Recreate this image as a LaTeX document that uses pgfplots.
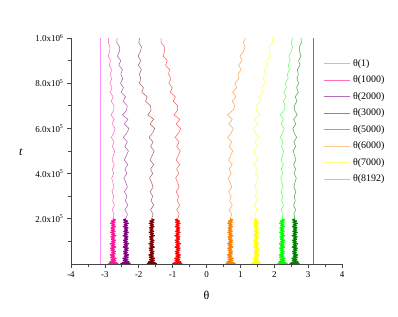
\documentclass[border=0pt]{standalone}
\usepackage{fontspec}
\setmainfont{Liberation Serif}
\usepackage{pgfplots}
\usepackage{pgfplotstable}
\pgfplotsset{compat=1.18}
\definecolor{cmag}{RGB}{255,0,255}
\definecolor{cpink}{RGB}{255,20,147}
\definecolor{cpurple}{RGB}{128,0,128}
\definecolor{cdred}{RGB}{128,0,0}
\definecolor{cred}{RGB}{255,0,0}
\definecolor{corange}{RGB}{255,128,0}
\definecolor{cyellow}{RGB}{255,255,0}
\definecolor{cgreen}{RGB}{0,255,0}
\definecolor{cdgreen}{RGB}{0,128,0}
\definecolor{cblue}{RGB}{100,100,255}
\definecolor{hpink}{RGB}{255,100,180}
\definecolor{hpurple}{RGB}{170,90,170}
\definecolor{hdred}{RGB}{170,90,90}
\definecolor{hred}{RGB}{255,90,90}
\definecolor{horange}{RGB}{255,160,80}
\definecolor{hyellow}{RGB}{255,255,70}
\definecolor{hgreen}{RGB}{90,255,90}
\definecolor{hdgreen}{RGB}{70,160,70}
\definecolor{lmag}{RGB}{255,150,255}
\definecolor{lpink}{RGB}{255,110,180}
\definecolor{lpurple}{RGB}{180,110,180}
\definecolor{ldred}{RGB}{180,120,120}
\definecolor{lred}{RGB}{255,120,120}
\definecolor{lorange}{RGB}{255,200,140}
\definecolor{lyellow}{RGB}{255,255,130}
\definecolor{lgreen}{RGB}{110,255,110}
\definecolor{axgray}{RGB}{70,70,70}
\pgfplotstableread{
t p1 p2 p3 p5 p6 p7 p8 p9
0 -2.90 -2.24 -1.76 -0.71 0.56 1.61 2.09 2.75
1500 -2.61 -2.53 -1.47 -1.00 0.85 1.32 2.38 2.46
3000 -2.88 -2.26 -1.74 -0.73 0.58 1.59 2.11 2.73
5000 -2.65 -2.49 -1.51 -0.96 0.81 1.36 2.34 2.50
10000 -2.85 -2.29 -1.71 -0.76 0.61 1.56 2.14 2.70
15000 -2.68 -2.46 -1.54 -0.93 0.78 1.39 2.31 2.53
20000 -2.82 -2.32 -1.68 -0.79 0.64 1.53 2.17 2.67
25000 -2.67 -2.47 -1.53 -0.94 0.79 1.38 2.32 2.52
30000 -2.83 -2.31 -1.69 -0.78 0.63 1.54 2.16 2.68
35000 -2.71 -2.43 -1.57 -0.90 0.75 1.42 2.28 2.56
40000 -2.84 -2.30 -1.70 -0.77 0.62 1.55 2.15 2.69
45000 -2.70 -2.44 -1.56 -0.91 0.76 1.41 2.29 2.55
50000 -2.80 -2.34 -1.66 -0.81 0.66 1.51 2.19 2.65
55000 -2.69 -2.45 -1.55 -0.92 0.77 1.40 2.30 2.54
60000 -2.82 -2.32 -1.68 -0.79 0.64 1.53 2.17 2.67
65000 -2.72 -2.42 -1.58 -0.89 0.74 1.43 2.27 2.57
70000 -2.83 -2.31 -1.69 -0.78 0.63 1.54 2.16 2.68
75000 -2.68 -2.46 -1.54 -0.93 0.78 1.39 2.31 2.53
80000 -2.81 -2.33 -1.67 -0.80 0.65 1.52 2.18 2.66
85000 -2.71 -2.43 -1.57 -0.90 0.75 1.42 2.28 2.56
90000 -2.84 -2.30 -1.70 -0.77 0.62 1.55 2.15 2.69
95000 -2.70 -2.44 -1.56 -0.91 0.76 1.41 2.29 2.55
100000 -2.80 -2.34 -1.66 -0.81 0.66 1.51 2.19 2.65
105000 -2.69 -2.45 -1.55 -0.92 0.77 1.40 2.30 2.54
110000 -2.81 -2.33 -1.67 -0.80 0.65 1.52 2.18 2.66
115000 -2.72 -2.42 -1.58 -0.89 0.74 1.43 2.27 2.57
120000 -2.82 -2.32 -1.68 -0.79 0.64 1.53 2.17 2.67
125000 -2.68 -2.46 -1.54 -0.93 0.78 1.39 2.31 2.53
130000 -2.80 -2.34 -1.66 -0.81 0.66 1.51 2.19 2.65
135000 -2.71 -2.43 -1.57 -0.90 0.75 1.42 2.28 2.56
140000 -2.83 -2.31 -1.69 -0.78 0.63 1.54 2.16 2.68
145000 -2.70 -2.44 -1.56 -0.91 0.76 1.41 2.29 2.55
150000 -2.81 -2.33 -1.67 -0.80 0.65 1.52 2.18 2.66
155000 -2.72 -2.42 -1.58 -0.89 0.74 1.43 2.27 2.57
160000 -2.82 -2.32 -1.68 -0.79 0.64 1.53 2.17 2.67
165000 -2.69 -2.45 -1.55 -0.92 0.77 1.40 2.30 2.54
170000 -2.80 -2.34 -1.66 -0.81 0.66 1.51 2.19 2.65
175000 -2.71 -2.43 -1.57 -0.90 0.75 1.42 2.28 2.56
180000 -2.83 -2.31 -1.69 -0.78 0.63 1.54 2.16 2.68
185000 -2.70 -2.44 -1.56 -0.91 0.76 1.41 2.29 2.55
190000 -2.81 -2.33 -1.67 -0.80 0.65 1.52 2.18 2.66
195000 -2.69 -2.45 -1.55 -0.92 0.77 1.40 2.30 2.54
200000 -2.76 -2.38 -1.62 -0.85 0.70 1.47 2.23 2.61
220000 -2.73 -2.335 -1.575 -0.805 0.745 1.425 2.26 2.58
240000 -2.78 -2.41 -1.65 -0.88 0.67 1.50 2.21 2.63
260000 -2.72 -2.32 -1.56 -0.79 0.76 1.41 2.27 2.57
280000 -2.77 -2.395 -1.635 -0.865 0.685 1.485 2.22 2.62
300000 -2.74 -2.35 -1.59 -0.82 0.73 1.44 2.25 2.59
320000 -2.79 -2.425 -1.665 -0.895 0.655 1.515 2.20 2.64
340000 -2.73 -2.335 -1.575 -0.805 0.745 1.425 2.26 2.58
360000 -2.76 -2.38 -1.62 -0.85 0.70 1.47 2.23 2.61
380000 -2.80 -2.44 -1.68 -0.91 0.64 1.53 2.19 2.65
400000 -2.74 -2.35 -1.59 -0.82 0.73 1.44 2.25 2.59
420000 -2.78 -2.41 -1.65 -0.88 0.67 1.50 2.21 2.63
440000 -2.72 -2.32 -1.56 -0.79 0.76 1.41 2.27 2.57
460000 -2.79 -2.425 -1.665 -0.895 0.655 1.515 2.20 2.64
480000 -2.75 -2.365 -1.605 -0.835 0.715 1.455 2.24 2.60
500000 -2.71 -2.305 -1.545 -0.775 0.775 1.395 2.28 2.56
520000 -2.78 -2.41 -1.65 -0.88 0.67 1.50 2.21 2.63
540000 -2.73 -2.335 -1.575 -0.805 0.745 1.425 2.26 2.58
560000 -2.81 -2.455 -1.695 -0.925 0.625 1.545 2.18 2.66
580000 -2.74 -2.35 -1.59 -0.82 0.73 1.44 2.25 2.59
600000 -2.70 -2.29 -1.53 -0.76 0.79 1.38 2.29 2.55
620000 -2.79 -2.425 -1.665 -0.895 0.655 1.515 2.20 2.64
640000 -2.72 -2.32 -1.56 -0.79 0.76 1.41 2.27 2.57
660000 -2.82 -2.48 -1.73 -0.96 0.62 1.58 2.18 2.68
680000 -2.74 -2.36 -1.64 -0.85 0.78 1.47 2.29 2.60
700000 -2.73 -2.34 -1.65 -0.85 0.84 1.46 2.32 2.59
720000 -2.81 -2.46 -1.80 -0.98 0.76 1.60 2.27 2.67
740000 -2.76 -2.39 -1.75 -0.92 0.87 1.54 2.35 2.62
760000 -2.84 -2.52 -1.91 -1.07 0.77 1.68 2.28 2.71
780000 -2.79 -2.45 -1.86 -1.01 0.89 1.62 2.36 2.66
800000 -2.85 -2.54 -1.98 -1.11 0.84 1.73 2.33 2.72
820000 -2.80 -2.47 -1.94 -1.05 0.96 1.67 2.41 2.67
840000 -2.84 -2.53 -1.98 -1.12 0.93 1.74 2.39 2.71
860000 -2.80 -2.48 -1.92 -1.09 1.02 1.70 2.45 2.68
880000 -2.87 -2.59 -2.01 -1.21 0.95 1.82 2.41 2.76
900000 -2.83 -2.53 -1.94 -1.16 1.05 1.77 2.47 2.72
920000 -2.90 -2.63 -2.02 -1.28 0.99 1.89 2.43 2.79
940000 -2.86 -2.57 -1.95 -1.24 1.09 1.85 2.50 2.75
960000 -2.85 -2.56 -1.92 -1.24 1.14 1.85 2.54 2.74
980000 -2.90 -2.65 -2.00 -1.34 1.09 1.95 2.50 2.80
1000000 -2.89 -2.64 -1.97 -1.34 1.15 1.95 2.54 2.79
}\data
\pgfplotsset{
  lowpart/.style={restrict y to domain=0:200000, line width=1.3pt, line join=round, forget plot},
  highpart/.style={restrict y to domain=200000:1000000, line width=0.5pt, forget plot},
}
\begin{document}
\begin{tikzpicture}
\useasboundingbox (-71bp,-53bp) rectangle (327bp,264bp);
\begin{axis}[
  at={(0,0)}, anchor=south west,
  scale only axis, width=271bp, height=226bp,
  xmin=-4, xmax=4, ymin=0, ymax=1000000,
  axis x line*=bottom, axis y line*=left,
  axis line style={draw=axgray, line width=0.8pt},
  tick align=outside,
  major tick length=4bp, minor tick length=2.5bp,
  every tick/.style={draw=axgray, line width=0.7pt},
  xtick={-4,-3,-2,-1,0,1,2,3,4},
  xticklabels={-4,-3,-2,-1,0,1,2,3,4},
  minor xtick={-3.5,-2.5,-1.5,-0.5,0.5,1.5,2.5,3.5},
  ytick={200000,400000,600000,800000,1000000},
  yticklabels={2.0x10\textsuperscript{5},4.0x10\textsuperscript{5},6.0x10\textsuperscript{5},8.0x10\textsuperscript{5},1.0x10\textsuperscript{6}},
  minor ytick={100000,300000,500000,700000,900000},
  scaled y ticks=false,
  tick label style={font=\fontsize{9}{10}\selectfont},
  xlabel={θ}, ylabel={\textit{t}},
  every axis x label/.style={at={(rel axis cs:0.5,0)}, anchor=center, yshift=-31bp, font=\fontsize{12}{13}\selectfont},
  every axis y label/.style={at={(rel axis cs:0,0.496)}, anchor=center, xshift=-50bp, font=\fontsize{12}{13}\selectfont},
  legend style={at={(rel axis cs:0.919,0.916)}, anchor=north west, draw=none, fill=none,
    font=\fontsize{10}{11}\selectfont, row sep=7.5bp, column sep=3bp,
    nodes={inner sep=0pt, text height=7bp, text depth=2bp}},
  legend cell align=left,
  legend image code/.code={\draw[#1] (0bp,0bp) -- (26bp,0bp);},
]
\addlegendimage{line width=0.8pt, lmag}
\addlegendentry{θ(1)}
\addlegendimage{line width=0.8pt, lpink}
\addlegendentry{θ(1000)}
\addlegendimage{line width=0.8pt, lpurple}
\addlegendentry{θ(2000)}
\addlegendimage{line width=0.8pt, ldred}
\addlegendentry{θ(3000)}
\addlegendimage{line width=0.8pt, lred}
\addlegendentry{θ(5000)}
\addlegendimage{line width=0.8pt, lorange}
\addlegendentry{θ(6000)}
\addlegendimage{line width=0.8pt, lyellow}
\addlegendentry{θ(7000)}
\addlegendimage{line width=0.8pt, lgreen}
\addlegendentry{θ(8192)}
\addplot[lmag, line width=0.6pt, forget plot] coordinates {(-3.14,0) (-3.14,1000000)};
\addplot[cpink, lowpart] table[x=p1,y=t]{\data};
\addplot[hpink, highpart] table[x=p1,y=t]{\data};
\addplot[cpurple, lowpart] table[x=p2,y=t]{\data};
\addplot[hpurple, highpart] table[x=p2,y=t]{\data};
\addplot[cdred, lowpart] table[x=p3,y=t]{\data};
\addplot[hdred, highpart] table[x=p3,y=t]{\data};
\addplot[cred, lowpart] table[x=p5,y=t]{\data};
\addplot[hred, highpart] table[x=p5,y=t]{\data};
\addplot[corange, lowpart] table[x=p6,y=t]{\data};
\addplot[horange, highpart] table[x=p6,y=t]{\data};
\addplot[cyellow, lowpart] table[x=p7,y=t]{\data};
\addplot[hyellow, highpart] table[x=p7,y=t]{\data};
\addplot[cgreen, lowpart] table[x=p8,y=t]{\data};
\addplot[hgreen, highpart] table[x=p8,y=t]{\data};
\addplot[cdgreen, lowpart] table[x=p9,y=t]{\data};
\addplot[hdgreen, highpart] table[x=p9,y=t]{\data};
\addplot[cblue, line width=0.6pt, forget plot] coordinates {(3.14,0) (3.14,1000000)};
\end{axis}
\end{tikzpicture}
\end{document}
